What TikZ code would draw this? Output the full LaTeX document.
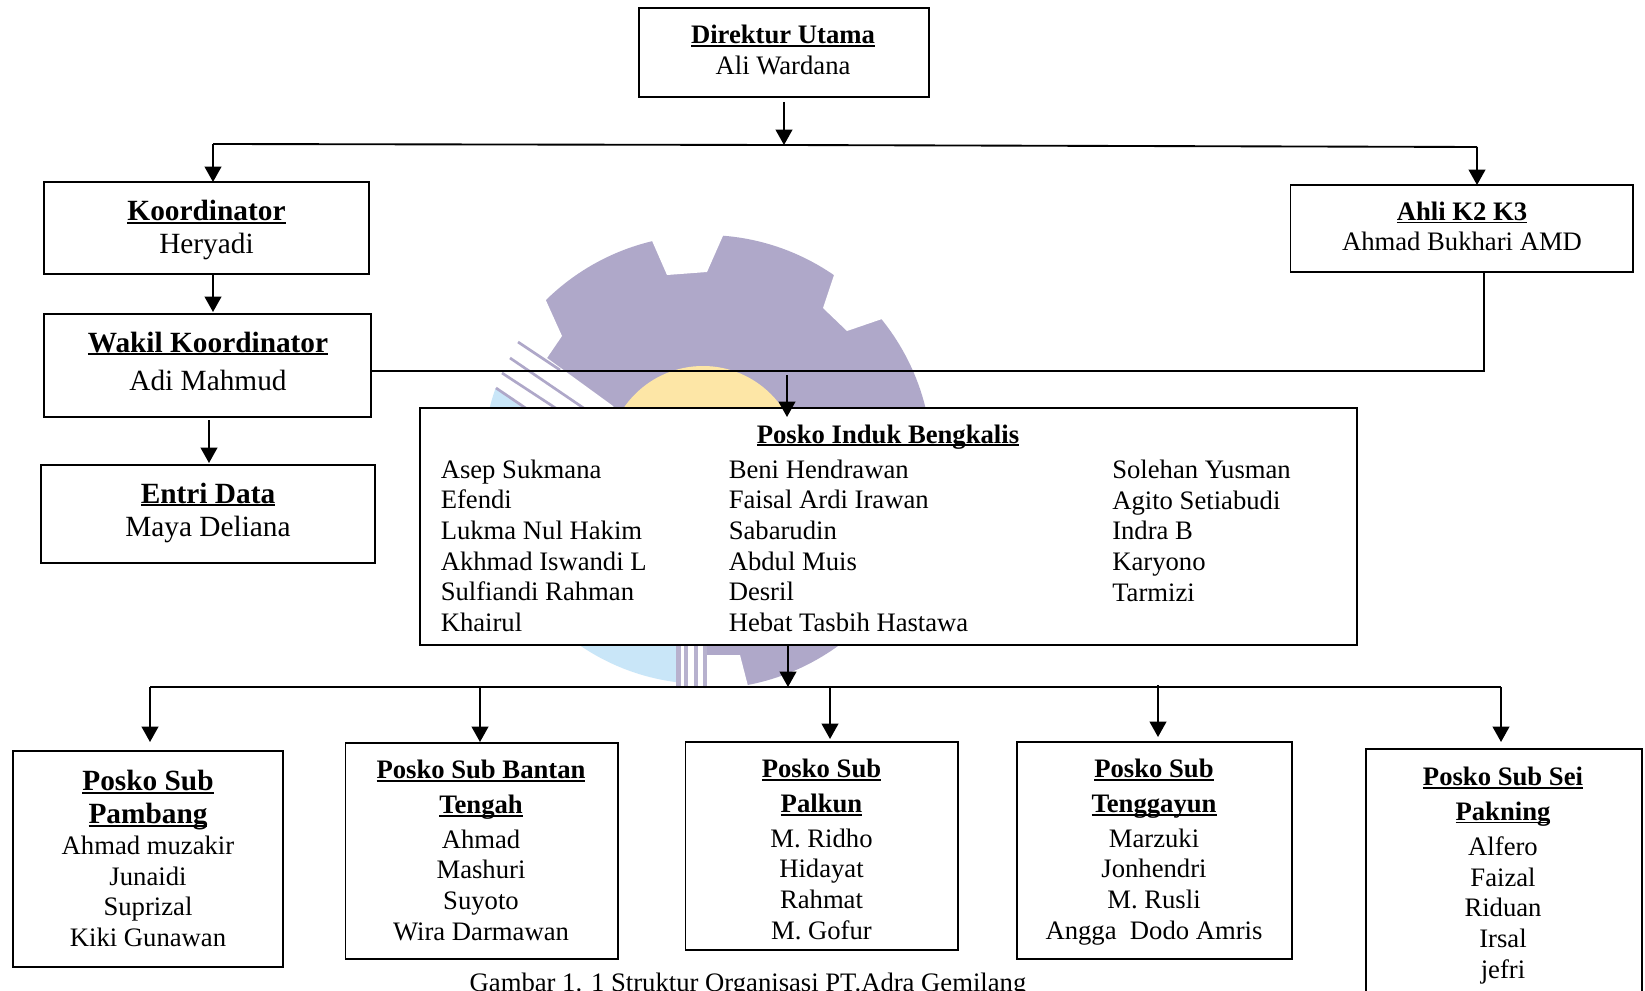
\documentclass[tikz,border=0pt]{standalone}
\usepackage{fontspec}
\setmainfont{Liberation Serif}
\usetikzlibrary{arrows.meta}
\definecolor{wmp}{HTML}{AFA8C9}
\definecolor{wmy}{HTML}{FDE6A6}
\definecolor{wmb}{HTML}{C9E6F8}
\newcommand\ulb[1]{\setbox0\hbox{\bfseries #1}\leavevmode\rlap{\rule[-0.115em]{\wd0}{0.065em}}\box0}
\newcommand\bigtitle{\fontsize{22pt}{24.75pt}\selectfont}
% \bx{name}{x1}{y1}{x2}{y2}
\newcommand\bx[5]{%
  \pgfmathsetlengthmacro\bw{(#4-#2)*0.75pt}%
  \pgfmathsetlengthmacro\bh{(#5-#3)*0.75pt}%
  \node[boxn,minimum width=\bw,minimum height=\bh] (#1) at ({(#2+#4)/2},{(#3+#5)/2}) {};}
\tikzset{
  x=0.75pt,y=-0.75pt,
  boxn/.style={draw=black,fill=white,line width=1.3pt,inner sep=0pt,outer sep=0pt,rectangle},
  ln/.style={draw=black,line width=1.4pt},
  arr/.style={ln,-{Triangle[length=11.5pt,width=12.5pt]}},
  txt/.style={anchor=base,align=center,inner sep=0pt,font=\fontsize{20pt}{23pt}\selectfont},
  txtb/.style={txt,font=\fontsize{22pt}{24.75pt}\selectfont},
  col/.style={txt,align=left,anchor=base west},
}
\begin{document}
\begin{tikzpicture}
\useasboundingbox (0,0) rectangle (1645,991);
\clip (0,0) rectangle (1645,991);
\fill[white] (0,0) rectangle (1645,991);
% watermark logo
\fill[wmp] (705,462) circle[radius=227];
\fill[white] (640,213)--(653,243)--(667,275)--(707,272)--(722,238)--(735,208)--cycle;
\fill[white] (843,248)--(833,278)--(823,308)--(847,331)--(882,319)--(950,295)--(950,230)--cycle;
\fill[white] (530,265)--(548,305)--(562,336)--(547,358)--(613,406)--(620,420)--(460,420)--(460,265)--cycle;
\fill[white] (460,640) rectangle (707,700);
\fill[white] (707,655)--(740,655)--(749,690)--(749,700)--(707,700)--cycle;
\begin{scope}
\clip (705,462) circle[radius=222];
\fill[wmb] (460,640) rectangle (676,700);
\fill[wmb] (496,388)--(522,406)--(526,415)--(470,415)--(470,380)--cycle;
\end{scope}
\begin{scope}
\clip (705,462) circle[radius=226];
\foreach \a/\b in {676/681,684/688,694/698,703/707}
  \fill[wmp!90!white] (\a,640) rectangle (\b,700);
\end{scope}
\begin{scope}[wmp,line width=2pt]
\draw (518,342)--(560,370);
\draw (510,358)--(585,409);
\draw (502,373)--(557,409);
\draw (496,388)--(527,409);
\end{scope}
\fill[wmy] (703,462) circle[radius=96];
% boxes
\bx{dir}{639}{8}{929}{97}
\bx{koor}{44}{182}{369}{274}
\bx{wakil}{44}{314}{371}{417}
\bx{entri}{41}{465}{375}{563}
\bx{ahli}{1290.5}{185}{1633}{272}
\bx{induk}{420}{408}{1357}{645}
\bx{subA}{13}{751}{283}{967}
\bx{subB}{345.5}{743}{618}{959}
\bx{subC}{685.5}{742}{958}{950}
\bx{subD}{1017}{742}{1292}{959}
\bx{subE}{1366}{749}{1642}{1040}
% texts
\node[txt] (tdir) at (783,74.5) {\ulb{Direktur Utama}\\Ali Wardana};
\node[txtb] (tkoor) at (206.5,253) {\ulb{Koordinator}\\[-0.7pt]Heryadi};
\node[txtb] (twakil) at (208,390) {\ulb{Wakil Koordinator}\\[3.75pt]Adi Mahmud};
\node[txtb] (tentri) at (208,536) {\ulb{Entri Data}\\Maya Deliana};
\node[txt] (tahli) at (1462,251) {\ulb{Ahli K2 K3}\\Ahmad Bukhari AMD};
\node[txt] (tinduk) at (888,443) {\ulb{Posko Induk Bengkalis}};
\node[col] (ca) at (440.5,631.5) {Asep Sukmana\\Efendi\\Lukma Nul Hakim\\Akhmad Iswandi L\\Sulfiandi Rahman\\Khairul};
\node[col] (cb) at (728.5,631.5) {Beni Hendrawan\\Faisal Ardi Irawan\\Sabarudin\\Abdul Muis\\Desril\\Hebat Tasbih Hastawa};
\node[col] (cc) at (1112,601) {Solehan Yusman\\Agito Setiabudi\\Indra B\\Karyono\\Tarmizi};
\node[txt] (tsubA) at (148,946.5) {{\bigtitle\ulb{Posko Sub}}\\[2.2pt]{\bigtitle\ulb{Pambang}}\\[0pt]Ahmad muzakir\\Junaidi\\Suprizal\\Kiki Gunawan};
\node[txt] (tsubB) at (481,940) {\ulb{Posko Sub Bantan}\\[3.2pt]\ulb{Tengah}\\[2.7pt]Ahmad\\Mashuri\\Suyoto\\Wira Darmawan};
\node[txt] (tsubC) at (821.5,939) {\ulb{Posko Sub}\\[3.2pt]\ulb{Palkun}\\[2.7pt]M. Ridho\\Hidayat\\Rahmat\\M. Gofur};
\node[txt] (tsubD) at (1154,939) {\ulb{Posko Sub}\\[3.2pt]\ulb{Tenggayun}\\[2.7pt]Marzuki\\Jonhendri\\M. Rusli\\Angga\ \ Dodo Amris};
\node[txt] (tsubE) at (1503,978) {\ulb{Posko Sub Sei}\\[3.2pt]\ulb{Pakning}\\[3.2pt]Alfero\\Faizal\\Riduan\\Irsal\\jefri};
\node[txt,font=\fontsize{20pt}{23pt}\selectfont] (cap) at (748,991) {Gambar 1. 1 Struktur Organisasi PT.Adra Gemilang};
% connectors
\coordinate (tl) at (213,144);
\coordinate (tm) at (784,145);
\coordinate (tr) at (1477,147);
\coordinate (ts) at (784,102);
\coordinate (wr) at (1484,371);
\coordinate (is) at (787,375);
\coordinate (ie) at (787,417);
\coordinate (bm) at (788,687);
\coordinate (bl) at (150,687);
\coordinate (br) at (1501,687);
\coordinate (b1) at (150,742);
\coordinate (b2) at (480,742);
\coordinate (b3) at (830,739);
\coordinate (b4) at (1158,737);
\coordinate (b5) at (1501,742);
\coordinate (ka) at (213,312);
\coordinate (wa) at (209,420);
\coordinate (ea) at (209,463);
\draw[arr] (ts) -- (tm);
\draw[ln] (tl) -- (tm) -- (tr);
\draw[arr] (tl) -- (tl |- koor.north);
\draw[arr] (tr) -- (tr |- ahli.north);
\draw[arr] (ka |- koor.south) -- (ka);
\draw[arr] (wa) -- (ea);
\draw[ln] (wakil.east |- wr) -- (wr) -- (wr |- ahli.south);
\draw[arr] (is) -- (ie);
\draw[arr] (bm |- induk.south) -- (bm);
\draw[ln] (bl) -- (br);
\draw[arr] (b1 |- bl) -- (b1);
\draw[arr] (b2 |- bl) -- (b2);
\draw[arr] (b3 |- bl) -- (b3);
\draw[arr] ([yshift=1.5pt]b4 |- bl) -- (b4);
\draw[arr] (b5 |- bl) -- (b5);
\end{tikzpicture}
\end{document}
